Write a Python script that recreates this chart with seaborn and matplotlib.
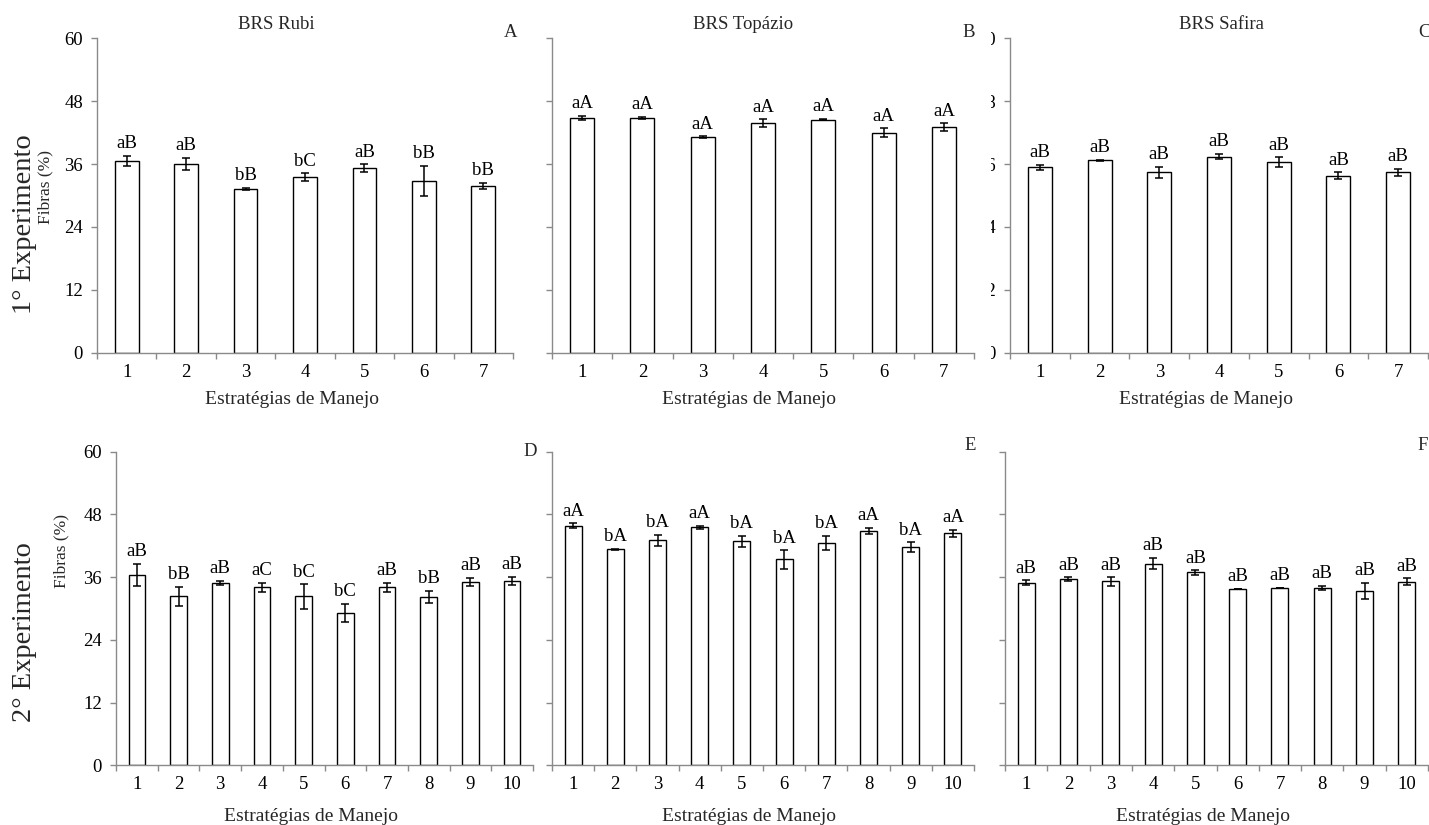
import numpy as np
import pandas as pd
import matplotlib
matplotlib.use("Agg")
import matplotlib.pyplot as plt
from matplotlib.patches import Rectangle
from matplotlib.ticker import FixedLocator, NullFormatter
import seaborn as sns

# ---------------- data ----------------
cats7 = ["1", "2", "3", "4", "5", "6", "7"]
cats10 = ["1", "2", "3", "4", "5", "6", "7", "8", "9", "10"]

rubi1_vals = [36.6, 36.0, 31.3, 33.5, 35.2, 32.8, 31.8]
rubi1_err = [0.95, 1.15, 0.2, 0.7, 0.75, 2.9, 0.6]
rubi1_lbl = ["aB", "aB", "bB", "bC", "aB", "bB", "bB"]

topazio1_vals = [44.8, 44.85, 41.1, 43.8, 44.5, 42.0, 43.0]
topazio1_err = [0.45, 0.2, 0.2, 0.75, 0.1, 0.8, 0.75]
topazio1_lbl = ["aA", "aA", "aA", "aA", "aA", "aA", "aA"]

safira1_vals = [35.4, 36.75, 34.4, 37.4, 36.4, 33.8, 34.4]
safira1_err = [0.5, 0.1, 1.05, 0.5, 0.9, 0.6, 0.7]
safira1_lbl = ["aB", "aB", "aB", "aB", "aB", "aB", "aB"]

rubi2_vals = [36.4, 32.3, 34.95, 34.05, 32.3, 29.2, 34.05, 32.2, 35.1, 35.3]
rubi2_err = [2.1, 1.8, 0.4, 0.85, 2.35, 1.7, 0.9, 1.15, 0.8, 0.75]
rubi2_lbl = ["aB", "bB", "aB", "aC", "bC", "bC", "aB", "bB", "aB", "aB"]

topazio2_vals = [45.85, 41.3, 43.05, 45.5, 42.85, 39.4, 42.5, 44.8, 41.7, 44.4]
topazio2_err = [0.45, 0.1, 1.0, 0.3, 1.1, 1.75, 1.4, 0.6, 0.95, 0.7]
topazio2_lbl = ["aA", "bA", "bA", "aA", "bA", "bA", "bA", "aA", "bA", "aA"]

safira2_vals = [34.95, 35.65, 35.2, 38.6, 36.9, 33.7, 33.9, 34.0, 33.4, 35.1]
safira2_err = [0.45, 0.35, 0.8, 1.1, 0.4, 0.05, 0.05, 0.4, 1.5, 0.65]
safira2_lbl = ["aB", "aB", "aB", "aB", "aB", "aB", "aB", "aB", "aB", "aB"]

yticks = [0, 12, 24, 36, 48, 60]
titles = ["BRS Rubi", "BRS Topázio", "BRS Safira"]
panel_letters = ["A", "B", "C", "D", "E", "F"]
xlabel_text = "Estratégias de Manejo"
ylabel_text = "Fibras (%)"
row_labels = ["1° Experimento", "2° Experimento"]

# ---------------- style ----------------
sns.set_theme(style="white")
plt.rcParams["font.family"] = ["Liberation Serif", "DejaVu Serif"]

W, H = 1429, 825
fig = plt.figure(figsize=(W / 100, H / 100), dpi=100)
fig.patch.set_facecolor("white")

GRAY = "#8a8a8a"

def fx(px):
    return px / W

def fy(py):
    return 1 - py / H

# axes boxes in pixel coordinates: (left, top, right, bottom)
boxes = [
    (97, 38.3, 513, 352.7),
    (552, 38.3, 974, 352.7),
    (1010, 38.3, 1428, 352.7),
    (116, 451.7, 533, 765.3),
    (552, 451.7, 974, 765.3),
    (1005, 451.7, 1428, 765.3),
]

panels = [
    (cats7, rubi1_vals, rubi1_err, rubi1_lbl),
    (cats7, topazio1_vals, topazio1_err, topazio1_lbl),
    (cats7, safira1_vals, safira1_err, safira1_lbl),
    (cats10, rubi2_vals, rubi2_err, rubi2_lbl),
    (cats10, topazio2_vals, topazio2_err, topazio2_lbl),
    (cats10, safira2_vals, safira2_err, safira2_lbl),
]

letter_pos = [(0.993, 1.017), (0.988, 1.017), (0.992, 1.017),
              (0.993, 1.0), (0.990, 1.021), (0.988, 1.021)]
title_x = [0.43, 0.453, 0.507]

axes = []
for i, ((l, t, r, b), (cats, vals, errs, lbls)) in enumerate(zip(boxes, panels)):
    ax = fig.add_axes([fx(l), fy(b), fx(r - l), (b - t) / H])
    axes.append(ax)
    df = pd.DataFrame({"cat": cats, "val": vals})
    sns.barplot(data=df, x="cat", y="val", order=cats, ax=ax, color="white",
                saturation=1, edgecolor="black", linewidth=1.0, width=0.4,
                errorbar=None)
    n = len(cats)
    xpos = np.arange(n)
    ax.errorbar(xpos, vals, yerr=errs, fmt="none", ecolor="black",
                elinewidth=1.1, capsize=3.2, capthick=1.1, zorder=5)
    for xi, v, e, s in zip(xpos, vals, errs, lbls):
        ax.annotate(s, (xi, v + e), xytext=(0, 5.5), textcoords="offset points",
                    ha="center", va="baseline", fontsize=13.5, color="black")

    ax.set_xlim(-0.5, n - 0.5)
    ax.set_ylim(0, 60)
    ax.set_yticks(yticks)
    ax.set_yticklabels([str(v) for v in yticks])
    ax.xaxis.set_minor_locator(FixedLocator(np.arange(n + 1) - 0.5))
    ax.xaxis.set_minor_formatter(NullFormatter())
    ax.tick_params(axis="x", which="major", length=0, pad=8, labelsize=13.5,
                   colors="black")
    ax.tick_params(axis="x", which="minor", direction="out", length=4.5,
                   width=1.0, color=GRAY, bottom=True)
    ax.tick_params(axis="y", which="major", direction="out", length=4,
                   width=1.0, color=GRAY, left=True, labelsize=13.5, pad=6,
                   labelcolor="black")
    for side in ["top", "right"]:
        ax.spines[side].set_visible(False)
    for side in ["left", "bottom"]:
        ax.spines[side].set_color(GRAY)
        ax.spines[side].set_linewidth(1.0)
    ax.set_facecolor("none")

    ax.set_xlabel(xlabel_text, fontsize=14)
    ax.xaxis.set_label_coords(0.468, -0.150 if i < 3 else -0.163)
    ax.xaxis.label.set_va("center")

    if i in (0, 3):
        ax.set_ylabel(ylabel_text, fontsize=12.5)
        if i == 0:
            ax.yaxis.set_label_coords(-0.125, 0.527)
        else:
            ax.yaxis.set_label_coords(-0.132, 0.683)
        ax.yaxis.label.set_va("center")
    else:
        ax.set_ylabel("")
        if i != 2:
            ax.tick_params(axis="y", labelleft=False)

    if i < 3:
        ax.text(title_x[i], 1.045, titles[i], transform=ax.transAxes,
                ha="center", va="center", fontsize=13.5)

    lx, ly = letter_pos[i]
    ax.text(lx, ly, panel_letters[i], transform=ax.transAxes,
            ha="center", va="center", fontsize=13.5)

# panel C tick labels are hidden behind panel B in the original (only a sliver shows)
fig.patches.append(Rectangle((fx(976), fy(365)), fx(990.5) - fx(976), (365 - 25) / H,
                             transform=fig.transFigure, facecolor="white",
                             edgecolor="none", zorder=3))

fig.text(fx(25), fy(224), row_labels[0], rotation=90, ha="center", va="center",
         fontsize=20.5)
fig.text(fx(25), fy(632), row_labels[1], rotation=90, ha="center", va="center",
         fontsize=20.5)

fig.savefig("out.png", dpi=100, facecolor="white")
